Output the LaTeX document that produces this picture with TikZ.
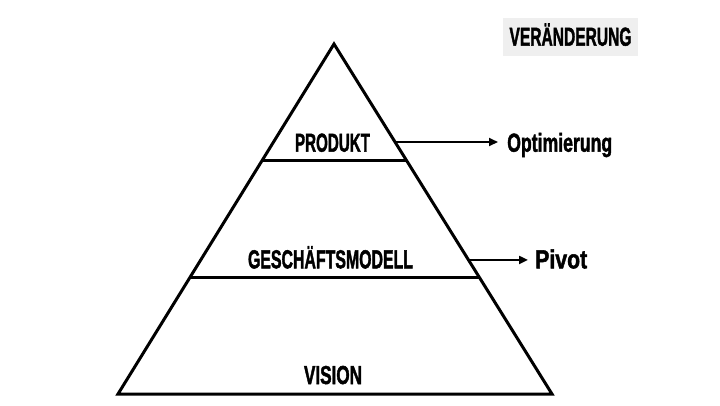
\documentclass[tikz,border=0pt]{standalone}
\usepackage{fontspec}
\setmainfont{Liberation Sans}[BoldFeatures={FakeBold=2}]
\usetikzlibrary{calc,arrows.meta}
\definecolor{boxgray}{HTML}{EFEFEF}
\newcommand\fw[2]{\resizebox{#1pt}{\height}{#2}}
\begin{document}
\begin{tikzpicture}[x=1pt,y=-1pt,
  lbl/.style={inner sep=0pt, anchor=base, font=\fontsize{26}{30}\selectfont\bfseries},
  edgeline/.style={line width=3pt, line join=miter},
  arr/.style={line width=2pt,-{Triangle[length=9pt,width=8pt]}}]
\useasboundingbox (0,0) rectangle (720,405);
% pyramid
\coordinate (A) at (334,44);
\coordinate (BL) at (118,394);
\coordinate (BR) at (552,394);
\draw[edgeline] (A) -- (BR) -- (BL) -- cycle;
\coordinate (d1l) at ($(A)!0.3333!(BL)$);
\coordinate (d1r) at ($(A)!0.3333!(BR)$);
\coordinate (d2l) at ($(A)!0.6667!(BL)$);
\coordinate (d2r) at ($(A)!0.6667!(BR)$);
\draw[edgeline] (d1l) -- (d1r);
\draw[edgeline] (d2l) -- (d2r);
% labels
\node[lbl] (produkt) at (332.5,151.7) {\fw{75}{PRODUKT}};
\node[lbl] (gm) at (330.5,268.3) {\fw{165}{GESCHÄFTSMODELL}};
\node[lbl] (vision) at (333,384) {\fw{58}{VISION}};
\node[lbl,anchor=base west] (opt) at (507,151.7) {\fw{105}{Optimierung}};
\node[lbl,anchor=base west] (pivot) at (535,268.3) {\fw{52}{Pivot}};
\node[lbl, fill=boxgray, inner xsep=6.5pt, inner ysep=10pt, text height=18pt, text depth=0pt] (veraenderung) at (570.5,45.7) {\fw{122}{VERÄNDERUNG}};
% arrows
\coordinate (s1) at ($(A)!0.28!(BR)$);
\coordinate (s2) at ($(A)!0.617!(BR)$);
\draw[arr] (s1) -- ([xshift=-9pt]s1 -| opt.west);
\draw[arr] (s2) -- ([xshift=-7pt]s2 -| pivot.west);
\end{tikzpicture}
\end{document}
